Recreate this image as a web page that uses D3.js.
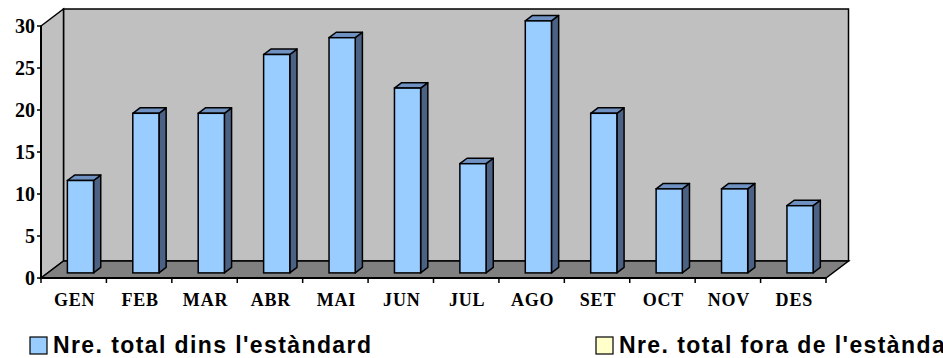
<!DOCTYPE html>
<html>
<head>
<meta charset="utf-8">
<script src="https://cdn.jsdelivr.net/npm/d3@7"></script>
<style>
    body { margin: 0; background: #fff; overflow: hidden; }
    .ylab { font-family: "Liberation Serif", "Times New Roman", serif; font-weight: bold; font-size: 20px; }
    .xlab { font-family: "Liberation Serif", "Times New Roman", serif; font-weight: bold; font-size: 18px; letter-spacing: 0.8px; }
    .leg { font-family: "Liberation Sans", Arial, sans-serif; font-weight: bold; font-size: 23px; letter-spacing: 1.4px; }
</style>
</head>
<body>
<div class="chart"></div>
<script>
window.onload = function() {
    var months = ['GEN', 'FEB', 'MAR', 'ABR', 'MAI', 'JUN', 'JUL', 'AGO', 'SET', 'OCT', 'NOV', 'DES'];
    var dinsValues = [11, 19, 19, 26, 28, 22, 13, 30, 19, 10, 10, 8];
    var yTicks = [0, 5, 10, 15, 20, 25, 30];
    var legendLabels = ["Nre. total dins l'estàndard", "Nre. total fora de l'estàndard"];
    var legendColors = ['#99ccff', '#ffffcc'];

    var width = 943, height = 358;
    var left = 41, right = 826, bottom = 278, top = 26;
    var dx = 22.5, dy = 17;      // depth of the 3d box
    var f1 = 0.3, f2 = 0.62;     // where bars sit inside the depth

    var svg = d3.select('.chart').append('svg')
        .attr('width', width)
        .attr('height', height);

    var x = d3.scaleBand().domain(months).range([left, right]).padding(0);
    var y = d3.scaleLinear().domain([0, 30]).range([bottom, top]);

    var pts = function(a) { return a.map(function(p) { return p.join(','); }).join(' '); };

    // back wall, side wall, floor
    svg.append('polygon')
        .attr('points', pts([[left + dx, y(30) - dy], [right + dx, y(30) - dy], [right + dx, y(0) - dy], [left + dx, y(0) - dy]]))
        .attr('fill', '#c0c0c0').attr('stroke', '#000').attr('stroke-width', 1.5);
    svg.append('polygon')
        .attr('points', pts([[left, y(30)], [left + dx, y(30) - dy], [left + dx, y(0) - dy], [left, y(0)]]))
        .attr('fill', '#c0c0c0').attr('stroke', '#000').attr('stroke-width', 1.5);
    svg.append('polygon')
        .attr('points', pts([[left, y(0)], [left + dx, y(0) - dy], [right + dx, y(0) - dy], [right, y(0)]]))
        .attr('fill', '#808080').attr('stroke', '#000').attr('stroke-width', 1.5);

    // bars
    var bw = x.bandwidth() * 0.4;
    var bars = svg.selectAll('.bar')
        .data(months)
        .enter().append('g')
        .attr('class', 'bar');

    bars.each(function(m, i) {
        var g = d3.select(this);
        var v = dinsValues[i];
        var cx = x(m) + x.bandwidth() / 2 + f1 * dx;
        var x0 = cx - bw / 2, x1 = cx + bw / 2;
        var yb = y(0) - f1 * dy, yt = y(v) - f1 * dy;
        var ox = (f2 - f1) * dx, oy = (f2 - f1) * dy;

        g.append('polygon')
            .attr('points', pts([[x1, yt], [x1 + ox, yt - oy], [x1 + ox, yb - oy], [x1, yb]]))
            .attr('fill', '#4c6284').attr('stroke', '#000').attr('stroke-width', 1.5).attr('stroke-linejoin', 'round');
        g.append('polygon')
            .attr('points', pts([[x0, yt], [x0 + ox, yt - oy], [x1 + ox, yt - oy], [x1, yt]]))
            .attr('fill', '#6f92c2').attr('stroke', '#000').attr('stroke-width', 1.5).attr('stroke-linejoin', 'round');
        g.append('rect')
            .attr('x', x0).attr('y', yt)
            .attr('width', bw).attr('height', yb - yt)
            .attr('fill', '#99ccff').attr('stroke', '#000').attr('stroke-width', 1.5);
    });

    // axes
    svg.append('line')
        .attr('x1', left).attr('y1', y(30)).attr('x2', left).attr('y2', y(0))
        .attr('stroke', '#000').attr('stroke-width', 2);
    svg.append('line')
        .attr('x1', left).attr('y1', y(0)).attr('x2', right).attr('y2', y(0))
        .attr('stroke', '#000').attr('stroke-width', 2);

    svg.selectAll('.ytick')
        .data(yTicks)
        .enter().append('line')
        .attr('x1', left - 4).attr('x2', left)
        .attr('y1', function(d) { return y(d); }).attr('y2', function(d) { return y(d); })
        .attr('stroke', '#000').attr('stroke-width', 1.5);

    svg.selectAll('.ylab')
        .data(yTicks)
        .enter().append('text')
        .attr('class', 'ylab')
        .attr('x', left - 6)
        .attr('y', function(d) { return y(d) + 7; })
        .attr('text-anchor', 'end')
        .text(function(d) { return d; });

    var bounds = months.map(function(m) { return x(m); }).concat([right]);
    svg.selectAll('.xtick')
        .data(bounds)
        .enter().append('line')
        .attr('x1', function(d) { return d; }).attr('x2', function(d) { return d; })
        .attr('y1', y(0)).attr('y2', y(0) + 5)
        .attr('stroke', '#000').attr('stroke-width', 1.5);

    svg.selectAll('.xlab')
        .data(months)
        .enter().append('text')
        .attr('class', 'xlab')
        .attr('x', function(d) { return x(d) + x.bandwidth() / 2 + 1; })
        .attr('y', 306)
        .attr('text-anchor', 'middle')
        .text(function(d) { return d; });

    // legend (second label runs off the right edge, as in the original)
    var legX = [30, 596];
    legendLabels.forEach(function(label, i) {
        svg.append('rect')
            .attr('x', legX[i]).attr('y', 337)
            .attr('width', 17).attr('height', 17)
            .attr('fill', legendColors[i]).attr('stroke', '#000').attr('stroke-width', 1.2);
        svg.append('text')
            .attr('class', 'leg')
            .attr('x', legX[i] + 23).attr('y', 353)
            .text(label);
    });
};
</script>
</body>
</html>
